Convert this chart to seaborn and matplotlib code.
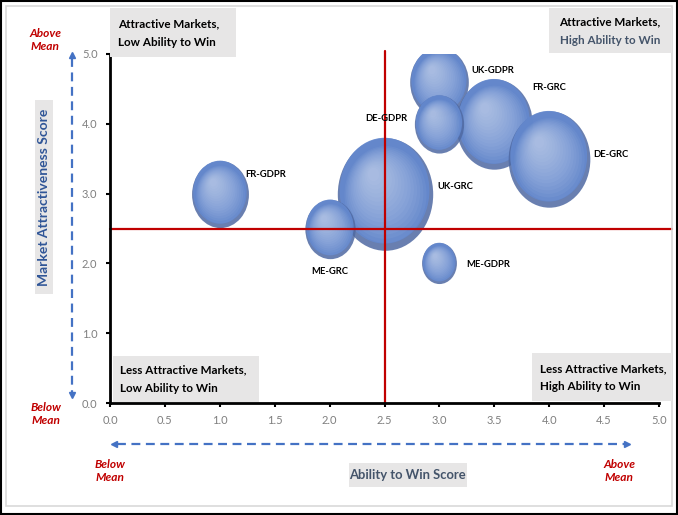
import numpy as np
import matplotlib
matplotlib.use("Agg")
import matplotlib.pyplot as plt
import seaborn as sns
from matplotlib.path import Path
from matplotlib.markers import MarkerStyle
from matplotlib.patches import Rectangle
from matplotlib.lines import Line2D

# data (drawing order = order of the lists)
markets = ['UK-GRC', 'UK-GDPR', 'FR-GRC', 'DE-GRC', 'DE-GDPR', 'FR-GDPR', 'ME-GRC', 'ME-GDPR']
ability = [2.5, 3.0, 3.5, 4.0, 3.0, 1.0, 2.0, 3.0]
attract = [3.0, 4.6, 4.0, 3.5, 4.0, 3.0, 2.5, 2.0]
bubble = [90, 34, 58, 66, 24, 32, 25, 12]
x_ticks = [0.0, 0.5, 1.0, 1.5, 2.0, 2.5, 3.0, 3.5, 4.0, 4.5, 5.0]
y_ticks = [0.0, 1.0, 2.0, 3.0, 4.0, 5.0]
x_mean = 2.5
y_mean = 2.5

# label offsets in points (layout only)
label_off = {'UK-GRC': (38, 5), 'UK-GDPR': (23, 8), 'FR-GRC': (27, 26), 'DE-GRC': (32, 3),
             'DE-GDPR': (-23, 4), 'FR-GDPR': (18, 14), 'ME-GRC': (0, -31), 'ME-GDPR': (19, -1)}
label_ha = {'DE-GDPR': 'right', 'ME-GRC': 'center'}

sns.set_style('white')
plt.rcParams['font.family'] = ['Lato', 'DejaVu Sans']

W, H = 678, 515
fig = plt.figure(figsize=(W / 100, H / 100), dpi=100)
fx = lambda px: px / W
fy = lambda py: 1 - py / H

ax = fig.add_axes([fx(110), fy(403), fx(659) - fx(110), fy(54) - fy(403)])

# ellipse marker, a bit taller than wide like the Excel bubbles
ASP = 1.18
K = 73.0


def ell_marker(r, cx, cy):
    c = Path.unit_circle()
    v = c.vertices.copy()
    v[:, 0] = v[:, 0] * r + cx
    v[:, 1] = v[:, 1] * r * ASP + cy
    resc = np.max(np.abs(v))
    return MarkerStyle(Path(v, c.codes)), (resc / ASP) ** 2


# sphere look: dark rim, body, soft highlight layers
layers = [ell_marker(1.0, 0, 0) + ('#4f69a2', 0.85),
          ell_marker(0.94, -0.02, 0.08) + ('#6489cf', 0.9)]
n_hl = 16
for i in range(n_hl):
    t = i / (n_hl - 1)
    layers.append(ell_marker(0.86 - 0.74 * t, -0.25 * t, 0.42 * t) + ('#dfe8fa', 0.055))

for i in range(len(markets)):
    s0 = K * bubble[i]
    for m, fac, col, a in layers:
        sns.scatterplot(x=[ability[i]], y=[attract[i]], s=s0 * fac, marker=m,
                        color=col, linewidth=0, alpha=a, ax=ax, legend=False, zorder=2)
    ax.annotate(markets[i], (ability[i], attract[i]), xytext=label_off[markets[i]],
                textcoords='offset points', ha=label_ha.get(markets[i], 'left'),
                va='center', fontsize=6.8, fontweight='bold', color='black', zorder=5)

for coll in ax.collections:
    coll.set_clip_path(ax.patch)
    coll.set_clip_on(True)

# mean lines
ax.plot([0, 5.12], [y_mean, y_mean], color='#c00000', lw=1.6, clip_on=False, zorder=4)
ax.plot([x_mean, x_mean], [0, 5.05], color='#c00000', lw=1.6, clip_on=False, zorder=4)

ax.set_xlim(0, 5)
ax.set_ylim(0, 5)
ax.set_xticks(x_ticks)
ax.set_yticks(y_ticks)
ax.set_xticklabels([f'{v:.1f}' for v in x_ticks])
ax.set_yticklabels([f'{v:.1f}' for v in y_ticks])
ax.tick_params(axis='both', length=3, width=1.5, color='black', labelcolor='#7f7f7f',
               labelsize=8, direction='out', pad=6)
ax.tick_params(left=True, bottom=True)
for side in ['top', 'right']:
    ax.spines[side].set_visible(False)
for side in ['left', 'bottom']:
    ax.spines[side].set_color('black')
    ax.spines[side].set_linewidth(2)
    ax.spines[side].set_zorder(6)

# quadrant boxes
grey = '#e7e6e6'
boxes = [
    (110, 8, 236, 57, 118, [(24, 'Attractive Markets,', 'black'), (42, 'Low Ability to Win', 'black')], 'left'),
    (549, 8, 672, 53, 660, [(22, 'Attractive Markets,', 'black'), (41, 'High Ability to Win', '#44546a')], 'right'),
    (113, 356, 259, 402, 120, [(370, 'Less Attractive Markets,', 'black'), (389, 'Low Ability to Win', 'black')], 'left'),
    (532, 353, 672, 401, 540, [(369, 'Less Attractive Markets,', 'black'), (387, 'High Ability to Win', 'black')], 'left'),
]
for x0, y0, x1, y1, tx, lines, ha in boxes:
    fig.add_artist(Rectangle((fx(x0), fy(y1)), fx(x1) - fx(x0), fy(y0) - fy(y1),
                             transform=fig.transFigure, facecolor=grey, edgecolor='none', zorder=7))
    for ty, txt, c in lines:
        fig.text(fx(tx), fy(ty), txt, ha=ha, va='center', fontsize=8.4, fontweight='bold',
                 color=c, zorder=8)

# axis titles in grey boxes
fig.add_artist(Rectangle((fx(35), fy(294)), fx(53) - fx(35), fy(100) - fy(294),
                         transform=fig.transFigure, facecolor=grey, edgecolor='none'))
fig.text(fx(44), fy(197), 'Market Attractiveness Score', rotation=90, ha='center', va='center',
         fontsize=10, fontweight='bold', color='#2f5597')
fig.add_artist(Rectangle((fx(349), fy(487)), fx(467) - fx(349), fy(463) - fy(487),
                         transform=fig.transFigure, facecolor=grey, edgecolor='none'))
fig.text(fx(407), fy(475), 'Ability to Win Score', ha='center', va='center',
         fontsize=9.4, fontweight='bold', color='#44546a')

# dashed arrows
blue = '#4472c4'
fig.add_artist(Line2D([fx(72), fx(72)], [fy(58), fy(392)], transform=fig.transFigure,
                      color=blue, lw=1.6, dashes=(4, 2.5)))
fig.add_artist(Line2D([fx(72)], [fy(55)], transform=fig.transFigure, marker='^',
                      markersize=5, color=blue, lw=0))
fig.add_artist(Line2D([fx(72)], [fy(395)], transform=fig.transFigure, marker='v',
                      markersize=5, color=blue, lw=0))
fig.add_artist(Line2D([fx(117), fx(625)], [fy(444), fy(444)], transform=fig.transFigure,
                      color=blue, lw=1.6, dashes=(4, 2.5)))
fig.add_artist(Line2D([fx(114)], [fy(444)], transform=fig.transFigure, marker='<',
                      markersize=5, color=blue, lw=0))
fig.add_artist(Line2D([fx(627)], [fy(444)], transform=fig.transFigure, marker='>',
                      markersize=5, color=blue, lw=0))

# above / below mean
red = '#c00000'
for x, y, t in [(45, 40, 'Above\nMean'), (46, 414, 'Below\nMean'),
                (110, 471, 'Below\nMean'), (619, 471, 'Above\nMean')]:
    fig.text(fx(x), fy(y), t, ha='center', va='center', fontsize=8.6, fontweight='bold',
             fontstyle='italic', color=red, linespacing=1.25)

# frame
fig.add_artist(Rectangle((fx(6), fy(506)), fx(672) - fx(6), fy(6) - fy(506),
                         transform=fig.transFigure, facecolor='none', edgecolor='#d9d9d9', lw=1.2))
fig.add_artist(Rectangle((0.001, 0.002), 0.997, 0.996, transform=fig.transFigure,
                         facecolor='none', edgecolor='black', lw=1.5))

fig.savefig('out.png', dpi=100)
